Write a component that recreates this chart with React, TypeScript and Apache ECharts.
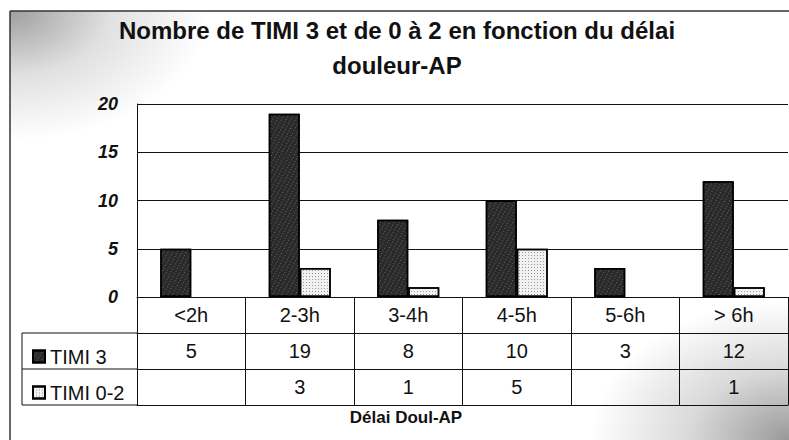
import React, { useEffect, useRef } from "react";
import * as echarts from "echarts";

const categories = ["<2h", "2-3h", "3-4h", "4-5h", "5-6h", "> 6h"];
const timi3 = [5, 19, 8, 10, 3, 12];
const timi02: (number | null)[] = [null, 3, 1, 5, null, 1];
const seriesNames = ["TIMI 3", "TIMI 0-2"];
const yTicks = { min: 0, max: 20, interval: 5 };
const titleText = "Nombre de TIMI 3 et de 0 à 2 en fonction du délai\ndouleur-AP";
const xTitle = "Délai Doul-AP";

const FONT = "'Liberation Sans', Arial, sans-serif";

export default function App() {
  const ref = useRef<HTMLDivElement>(null);
  useEffect(() => {
    document.body.style.margin = "0";
    const chart = echarts.init(ref.current!, null, { renderer: "svg" });
    const gridLeft = 137;
    const gridTop = 104;
    const gridRight = 788;
    const gridBottom = 297;
    const rowH = 36;
    const tableLeft = 22;
    const lineColor = "#111";

    const tableAxis = (offset: number, labels: (string | number | null)[], showLabel: boolean, showTick: boolean) => ({
      type: "category",
      gridIndex: 0,
      position: "bottom",
      offset,
      data: categories,
      axisLine: { show: true, lineStyle: { color: lineColor, width: 1 } },
      axisTick: showTick
        ? { show: true, length: rowH * 3, lineStyle: { color: lineColor, width: 1 } }
        : { show: false },
      axisLabel: {
        show: showLabel,
        interval: 0,
        margin: 18,
        verticalAlign: "middle",
        fontFamily: FONT,
        fontSize: 20,
        color: "#111",
        formatter: (_v: string, i: number) => {
          const v = labels[i];
          return v === null || v === undefined ? "" : String(v);
        },
      },
      splitLine: { show: false },
    });

    chart.setOption({
      animation: false,
      backgroundColor: "#ffffff",
      title: {
        text: titleText,
        left: 392,
        top: 8,
        textAlign: "center",
        textStyle: {
          fontFamily: FONT,
          fontSize: 24,
          fontWeight: "bold",
          color: "#111",
          lineHeight: 35,
        },
      },
      legend: {
        orient: "vertical",
        left: 27,
        top: 341,
        itemWidth: 12,
        itemHeight: 12,
        itemGap: 15,
        icon: "rect",
        data: seriesNames,
        textStyle: { fontFamily: FONT, fontSize: 20, color: "#111", lineHeight: 21 },
      },
      grid: {
        left: gridLeft,
        top: gridTop,
        width: gridRight - gridLeft,
        height: gridBottom - gridTop,
      },
      xAxis: [
        tableAxis(0, categories, true, true),
        tableAxis(rowH, timi3, true, false),
        tableAxis(rowH * 2, timi02, true, false),
        tableAxis(rowH * 3, categories, false, false),
      ],
      yAxis: {
        type: "value",
        min: yTicks.min,
        max: yTicks.max,
        interval: yTicks.interval,
        axisLine: { show: true, lineStyle: { color: lineColor, width: 1 } },
        axisTick: { show: false },
        axisLabel: {
          margin: 19,
          fontFamily: FONT,
          fontSize: 18,
          fontWeight: "bold",
          fontStyle: "italic",
          color: "#111",
        },
        splitLine: { show: true, lineStyle: { color: lineColor, width: 1 } },
      },
      series: [
        {
          name: seriesNames[0],
          type: "bar",
          xAxisIndex: 0,
          data: timi3,
          barWidth: 31,
          barGap: "0%",
          itemStyle: {
            color: "#2a2a2a",
            borderColor: "#000",
            borderWidth: 1.5,
            decal: {
              symbol: "rect",
              symbolSize: 1,
              color: "rgba(150,150,150,0.55)",
              dashArrayX: [1, 3],
              dashArrayY: [1, 2],
              rotation: 0.5,
            },
          },
        },
        {
          name: seriesNames[1],
          type: "bar",
          xAxisIndex: 0,
          data: timi02,
          barWidth: 31,
          barGap: "0%",
          itemStyle: {
            color: "#f2f2f2",
            borderColor: "#000",
            borderWidth: 1.5,
            decal: {
              symbol: "rect",
              symbolSize: 1,
              color: "rgba(90,90,90,0.6)",
              dashArrayX: [1, 2],
              dashArrayY: [1, 2],
            },
          },
        },
      ],
      graphic: [
        {
          type: "rect",
          z: -10,
          shape: { x: 10, y: 11, width: 200, height: 130 },
          style: {
            fill: {
              type: "radial",
              x: 0,
              y: 0,
              r: 1,
              colorStops: [
                { offset: 0, color: "rgba(0,0,0,0.38)" },
                { offset: 0.5, color: "rgba(0,0,0,0.12)" },
                { offset: 1, color: "rgba(0,0,0,0)" },
              ],
            },
          },
        },
        {
          type: "rect",
          z: -10,
          shape: { x: 590, y: 300, width: 199, height: 140 },
          style: {
            fill: {
              type: "radial",
              x: 1,
              y: 1,
              r: 1,
              colorStops: [
                { offset: 0, color: "rgba(0,0,0,0.4)" },
                { offset: 0.5, color: "rgba(0,0,0,0.15)" },
                { offset: 1, color: "rgba(0,0,0,0)" },
              ],
            },
          },
        },
        {
          type: "line",
          shape: { x1: 10, y1: 11, x2: 789, y2: 11 },
          style: { stroke: "#333", lineWidth: 1.5 },
        },
        {
          type: "line",
          shape: { x1: 10, y1: 11, x2: 10, y2: 440 },
          style: { stroke: "#333", lineWidth: 1.5 },
        },
        {
          type: "line",
          shape: { x1: tableLeft, y1: gridBottom + rowH, x2: gridLeft, y2: gridBottom + rowH },
          style: { stroke: lineColor, lineWidth: 1 },
        },
        {
          type: "line",
          shape: { x1: tableLeft, y1: gridBottom + rowH * 2, x2: gridLeft, y2: gridBottom + rowH * 2 },
          style: { stroke: lineColor, lineWidth: 1 },
        },
        {
          type: "line",
          shape: { x1: tableLeft, y1: gridBottom + rowH * 3, x2: gridLeft, y2: gridBottom + rowH * 3 },
          style: { stroke: lineColor, lineWidth: 1 },
        },
        {
          type: "line",
          shape: { x1: tableLeft, y1: gridBottom + rowH, x2: tableLeft, y2: gridBottom + rowH * 3 },
          style: { stroke: lineColor, lineWidth: 1 },
        },
        {
          type: "text",
          x: 406,
          y: 417,
          style: {
            text: xTitle,
            fontFamily: FONT,
            fontSize: 17,
            fontWeight: "bold",
            fill: "#111",
            align: "center",
            verticalAlign: "middle",
          },
        },
      ],
    });
    return () => chart.dispose();
  }, []);
  return <div ref={ref} style={{ width: 789, height: 440 }} />;
}
